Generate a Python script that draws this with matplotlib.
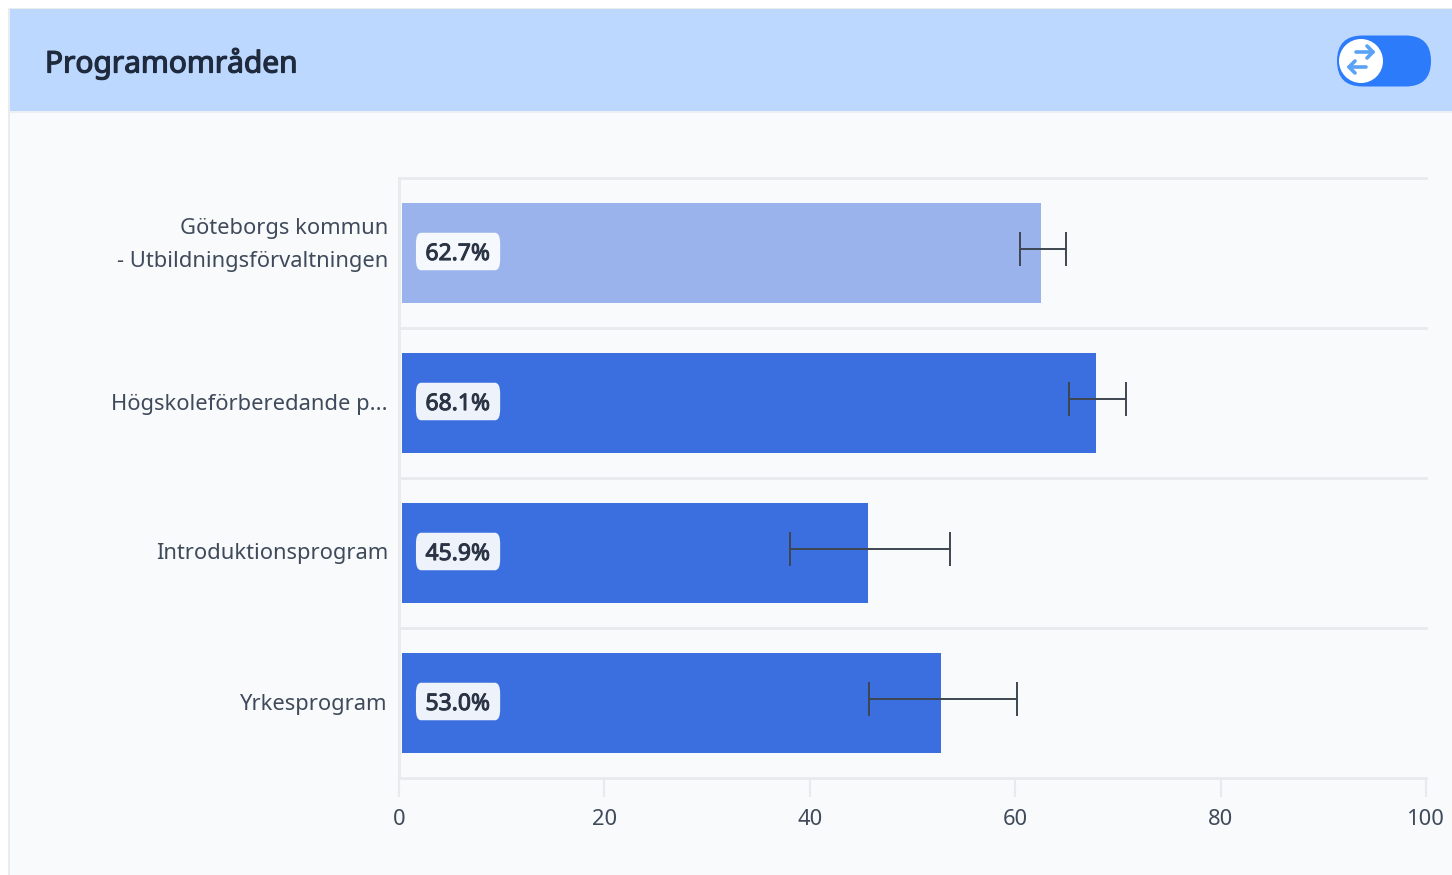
# Programomraden bar chart with error bars
import matplotlib
matplotlib.use('Agg')
import matplotlib.pyplot as plt
import matplotlib.patheffects as pe
from matplotlib.patches import FancyBboxPatch, Rectangle, Circle
from matplotlib.transforms import ScaledTranslation

W, H = 1452, 875

title = 'Programområden'
categories = ['Göteborgs kommun\n- Utbildningsförvaltningen', 'Högskoleförberedande p...',
              'Introduktionsprogram', 'Yrkesprogram']
values = [62.7, 68.1, 45.9, 53.0]
err_low = [60.5, 65.2, 38.1, 45.8]
err_high = [64.9, 70.8, 53.7, 60.2]
xticks = [0, 20, 40, 60, 80, 100]

bar_colors = ['#9ab3ec', '#3b6fdf', '#3b6fdf', '#3b6fdf']
pill_colors = ['#f5f8fd', '#eef2fb', '#eef2fb', '#eef2fb']
text_color = '#3f4a5a'
grid_color = '#e8eaed'
panel_color = '#f8fafc'
arrow_color = '#5aa2f5'

plt.rcParams['font.family'] = ['Noto Sans', 'DejaVu Sans']

fig = plt.figure(figsize=(W / 100, H / 100), dpi=100, facecolor='white')

# background layer in pixel coordinates, y goes down like the screenshot
bg = fig.add_axes([0, 0, 1, 1], zorder=0)
bg.set_xlim(0, W)
bg.set_ylim(H, 0)
bg.axis('off')
bg.add_patch(Rectangle((9, 9), W, H, fc=panel_color, ec='#e8e9eb', lw=1.2))
bg.add_patch(Rectangle((10, 9), W, 102, fc='#bcd8ff', ec='none'))
bg.plot([10, W], [111.5, 111.5], color='#e8edf3', lw=1.2)
# the installed Noto Sans has no usable bold here, so thicken with a stroke
bg.text(45, 64, title, fontsize=21.5, color='#1f2a3c', va='center', ha='left',
        path_effects=[pe.withStroke(linewidth=0.9, foreground='#1f2a3c')])

# toggle
bg.add_patch(FancyBboxPatch((1337, 35.5), 94, 51, boxstyle='round,pad=0,rounding_size=25.5',
                            fc='#2b7bfb', ec='none'))
bg.add_patch(Circle((1361, 61), 22, fc='white', ec='none'))
bg.plot([1356, 1373], [52, 52], color=arrow_color, lw=2.6, solid_capstyle='round')
bg.plot([1367, 1373, 1367], [46, 52, 58], color=arrow_color, lw=2.6, solid_capstyle='round')
bg.plot([1349, 1366], [67, 67], color=arrow_color, lw=2.6, solid_capstyle='round')
bg.plot([1355, 1349, 1355], [61, 67, 73], color=arrow_color, lw=2.6, solid_capstyle='round')

# chart axes: x 0..100 at px 399..1426, bands px 178..778
ax = fig.add_axes([399 / W, 1 - 778 / H, (1426 - 399) / W, 600 / H], zorder=1)
ax.patch.set_alpha(0)
ax.set_xlim(0, 100)
ax.set_ylim(3.5, -0.5)

pos = list(range(len(categories)))
bar_start = 0.25  # bars sit a little off the axis line
bar_trim = 0.2
ax.barh(pos, [v - bar_start - bar_trim for v in values], left=bar_start, height=0.667, color=bar_colors, zorder=2)

# error bars sit slightly above the bar centre
err_y = [p - 0.027 for p in pos]
ax.hlines(err_y, err_low, err_high, color='#3d4650', lw=1.4, zorder=3)
ax.vlines(err_low, [y - 0.115 for y in err_y], [y + 0.115 for y in err_y], color='#3d4650', lw=1.4, zorder=3)
ax.vlines(err_high, [y - 0.115 for y in err_y], [y + 0.115 for y in err_y], color='#3d4650', lw=1.4, zorder=3)

for p, v, c in zip(pos, values, pill_colors):
    ax.text(5.72, p + 0.007, f'{v:.1f}%', fontsize=16.5, color='#2a3444', ha='center', va='center', zorder=5,
            path_effects=[pe.withStroke(linewidth=0.7, foreground='#2a3444')])
    ax.add_patch(FancyBboxPatch((1.65, p - 0.135), 8.2, 0.25,
                                boxstyle='round,pad=0,rounding_size=0.5', mutation_aspect=0.146,
                                fc=c, ec='none', zorder=4))

for b in [-0.5, 0.5, 1.5, 2.5, 3.5]:
    ax.axhline(b, color=grid_color, lw=2.0, zorder=1, clip_on=False)

for s in ['top', 'right', 'bottom']:
    ax.spines[s].set_visible(False)
ax.spines['left'].set_color(grid_color)
ax.spines['left'].set_linewidth(2.0)

ax.set_xticks(xticks)
ax.set_yticks(pos)
ax.set_yticklabels(categories, linespacing=1.72)
ax.tick_params(axis='y', length=0, pad=8, labelsize=15.8, labelcolor=text_color)
ax.tick_params(axis='x', length=14, width=1.6, color=grid_color, pad=8, labelsize=15.8, labelcolor=text_color)

# the two line label sits higher than the band centre in the reference
shifts = [16.5, 1, 1.5, 1]
for lab, dy in zip(ax.get_yticklabels(), shifts):
    lab.set_transform(lab.get_transform() + ScaledTranslation(0, dy / 100, fig.dpi_scale_trans))

fig.savefig('out.png', dpi=100, facecolor='white')
